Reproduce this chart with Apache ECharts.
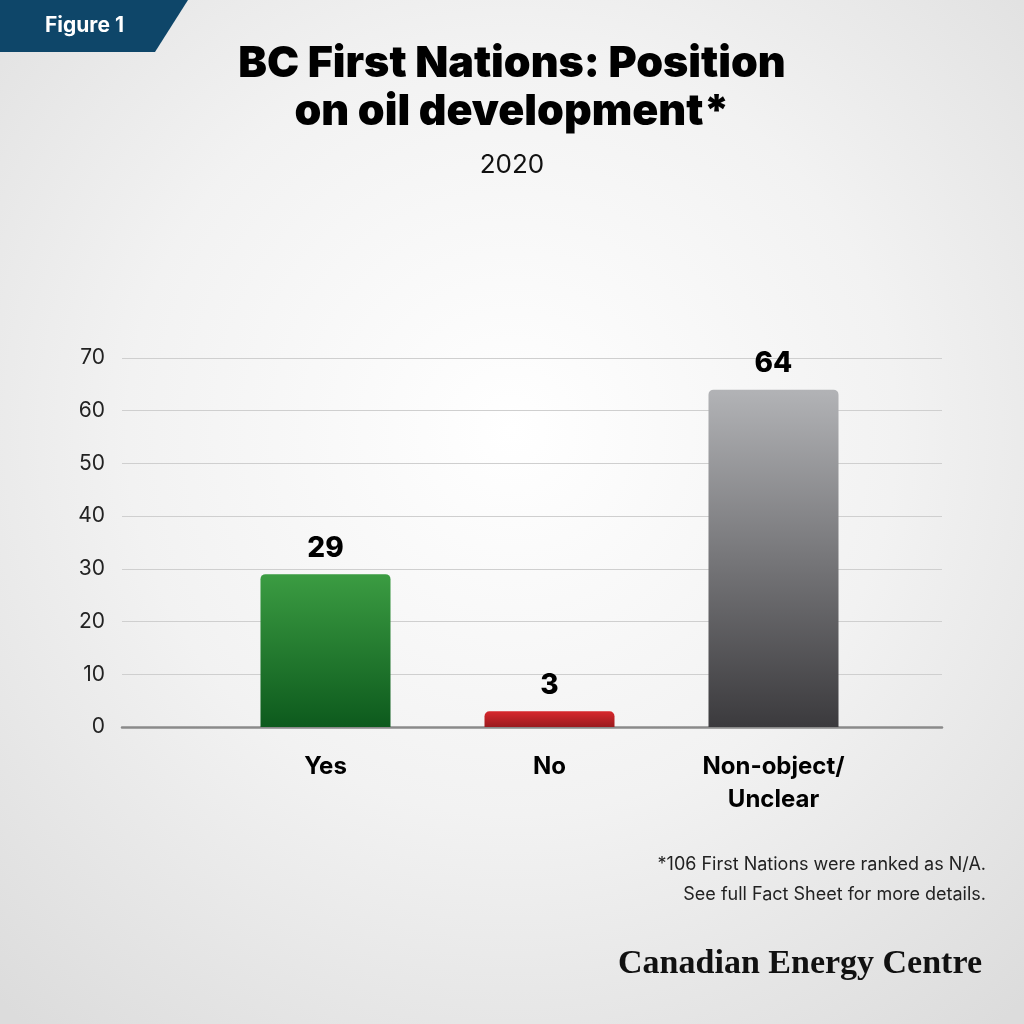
<!DOCTYPE html>
<html lang="en">
<head>
<meta charset="UTF-8">
<title>BC First Nations: Position on oil development</title>
<script src="https://cdn.jsdelivr.net/npm/echarts@6/dist/echarts.min.js"></script>
<style>
html, body { margin: 0; padding: 0; }
#chart { width: 1024px; height: 1024px; }
</style>
</head>
<body>
<div id="chart"></div>
<script>
var categories = ['Yes', 'No', 'Non-object/\nUnclear'];
var values = [29, 3, 64];
var yTicks = { min: 0, max: 70, interval: 10 };

var barColors = [
    ['#3b9c42', '#0d5a1d'],
    ['#d8282d', '#9a1a1e'],
    ['#b2b3b6', '#3b3a3d']
];

function grad(c) {
    return new echarts.graphic.LinearGradient(0, 0, 0, 1, [
        { offset: 0, color: c[0] },
        { offset: 1, color: c[1] }
    ]);
}

var barData = values.map(function (v, i) {
    return { value: v, itemStyle: { color: grad(barColors[i]) } };
});

var font = 'Inter, "Noto Sans", sans-serif';

var option = {
    backgroundColor: new echarts.graphic.RadialGradient(0.5, 0.42, 0.75, [
        { offset: 0, color: '#ffffff' },
        { offset: 0.5, color: '#f2f2f2' },
        { offset: 1, color: '#dcdcdc' }
    ]),
    animation: false,
    title: [
        {
            text: 'BC First Nations: Position\non oil development*',
            left: 'center',
            top: 35,
            textStyle: {
                fontFamily: font, fontWeight: 900, fontSize: 43,
                color: '#000', lineHeight: 48
            }
        },
        {
            text: '2020',
            left: 'center',
            top: 147,
            textStyle: { fontFamily: font, fontWeight: 400, fontSize: 26, color: '#111' }
        }
    ],
    graphic: [
        {
            type: 'polygon',
            shape: { points: [[0, 0], [188, 0], [155, 52], [0, 52]] },
            style: { fill: '#0e4669' }
        },
        {
            type: 'text',
            x: 45, y: 15,
            style: { text: 'Figure 1', fill: '#fff', font: 'bold 21px ' + font }
        },
        {
            type: 'text',
            x: 986, y: 850,
            style: {
                text: '*106 First Nations were ranked as N/A.\nSee full Fact Sheet for more details.',
                fill: '#222', font: '18px ' + font, align: 'right', lineHeight: 30
            }
        },
        {
            type: 'text',
            x: 982, y: 947,
            style: {
                text: 'Canadian Energy Centre', align: 'right',
                fill: '#111', font: 'bold 34px "Liberation Serif", serif'
            }
        }
    ],
    grid: [
        { left: 122, right: 82, top: 358, bottom: 297 },
        { left: 213.5, right: 138.5, top: 358, bottom: 297 }
    ],
    xAxis: [
        {
            type: 'category', gridIndex: 0, data: [''],
            axisLine: { lineStyle: { color: '#8a8a8a', width: 2.5 } },
            axisTick: { show: false }, axisLabel: { show: false }
        },
        {
            type: 'category', gridIndex: 1, data: categories,
            axisLine: { show: false }, axisTick: { show: false },
            axisLabel: {
                margin: 23, color: '#000', fontFamily: font,
                fontWeight: 700, fontSize: 24, lineHeight: 33
            }
        }
    ],
    yAxis: [
        {
            type: 'value', gridIndex: 0,
            min: yTicks.min, max: yTicks.max, interval: yTicks.interval,
            axisLine: { show: false }, axisTick: { show: false },
            axisLabel: { margin: 17, color: '#222', fontFamily: font, fontSize: 21 },
            splitLine: { lineStyle: { color: '#cfcfcf', width: 1 } }
        },
        {
            type: 'value', gridIndex: 1,
            min: yTicks.min, max: yTicks.max, interval: yTicks.interval,
            show: false, splitLine: { show: false }
        }
    ],
    series: [
        {
            type: 'bar',
            xAxisIndex: 1, yAxisIndex: 1,
            data: barData,
            barWidth: 130,
            itemStyle: { borderRadius: [5, 5, 0, 0] },
            label: {
                show: true, position: 'top', distance: 12,
                color: '#000', fontFamily: font, fontWeight: 800, fontSize: 28
            }
        }
    ]
};

var chart = echarts.init(document.getElementById('chart'));
chart.setOption(option);
</script>
</body>
</html>
